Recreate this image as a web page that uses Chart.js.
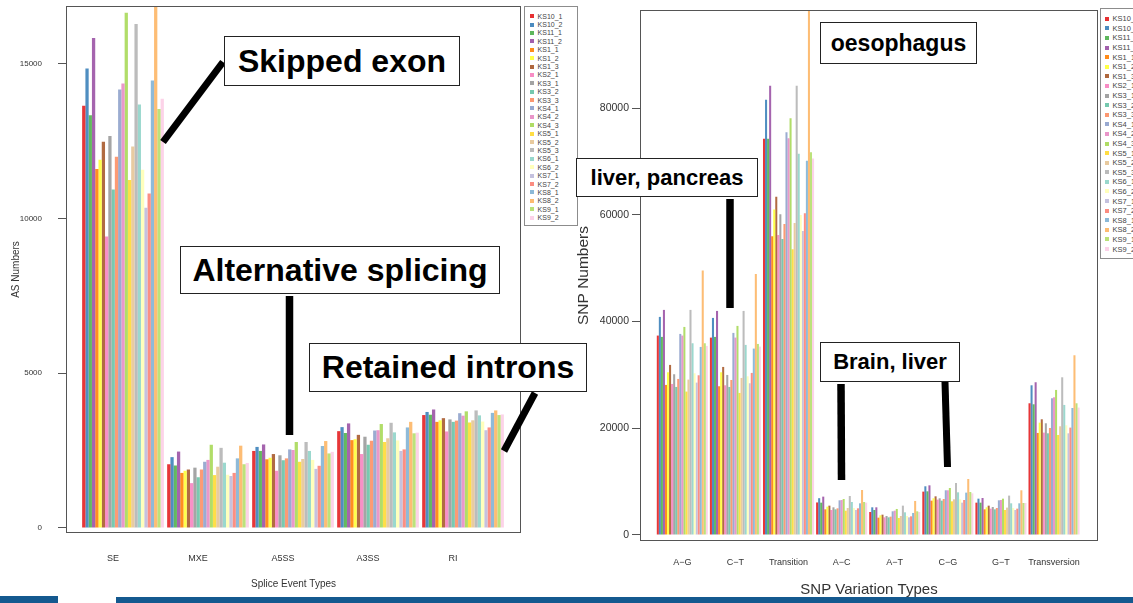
<!DOCTYPE html>
<html><head><meta charset="utf-8">
<script src="https://cdn.jsdelivr.net/npm/chart.js@4/dist/chart.umd.min.js"></script>
<style>
html,body{margin:0;padding:0;background:#fff;}
#wrap{position:relative;width:1133px;height:603px;overflow:hidden;font-family:'Liberation Sans',Arial,Helvetica,sans-serif;background:#fff;}
canvas{position:absolute;left:0;top:0;}
.legend{position:absolute;border:1px solid #8c8c8c;background:#fff;color:#444;box-sizing:border-box;}
.legend .it{display:flex;align-items:center;white-space:nowrap;}
.legend .sw{display:inline-block;flex:none;}
.note{position:absolute;border:1.5px solid #222;background:#fff;font-weight:bold;color:#000;display:flex;align-items:center;justify-content:center;white-space:nowrap;box-sizing:border-box;font-family:'Liberation Sans',Arial,sans-serif;}
svg{position:absolute;left:0;top:0;}
.band{position:absolute;background:#14598f;}
</style></head><body>
<div id="wrap">
  <div style="position:absolute;left:0;top:0;width:540px;height:603px"><canvas id="c1" width="540" height="603"></canvas></div>
  <div style="position:absolute;left:560px;top:0;width:573px;height:603px"><canvas id="c2" width="573" height="603"></canvas></div>
  <div id="leg1" class="legend"></div>
  <div id="leg2" class="legend"></div>
  <svg width="1133" height="603">
    <g stroke="#000" stroke-linecap="butt">
      <line x1="163" y1="142" x2="223" y2="62" stroke-width="7"/>
      <line x1="289.5" y1="296" x2="289.5" y2="435" stroke-width="7.5"/>
      <line x1="535" y1="393" x2="504" y2="451" stroke-width="7"/>
      <line x1="730" y1="199" x2="730" y2="308" stroke-width="7.5"/>
      <line x1="841" y1="384" x2="841.5" y2="480" stroke-width="7.5"/>
      <line x1="945" y1="382" x2="947.5" y2="467" stroke-width="7"/>
    </g>
  </svg>
  <div class="note" style="left:224px;top:36px;width:236px;height:50px;font-size:32px">Skipped exon</div>
  <div class="note" style="left:180px;top:246px;width:320px;height:48px;font-size:32px">Alternative splicing</div>
  <div class="note" style="left:309px;top:343px;width:278px;height:49px;font-size:32px">Retained introns</div>
  <div class="note" style="left:820px;top:22px;width:157px;height:42px;font-size:23px">oesophagus</div>
  <div class="note" style="left:576px;top:158px;width:182px;height:39px;font-size:22px">liver, pancreas</div>
  <div class="note" style="left:820px;top:342px;width:140px;height:40px;font-size:22px">Brain, liver</div>
  <div class="band" style="left:0;top:596px;width:58px;height:7px"></div>
  <div class="band" style="left:116px;top:597px;width:1017px;height:6px"></div>
</div>
<script>
// ---------- data ----------
const sampleNames = ['KS10_1','KS10_2','KS11_1','KS11_2','KS1_1','KS1_2','KS1_3','KS2_1','KS3_1','KS3_2','KS3_3','KS4_1','KS4_2','KS4_3','KS5_1','KS5_2','KS5_3','KS6_1','KS6_2','KS7_1','KS7_2','KS8_1','KS8_2','KS9_1','KS9_2'];
const sampleColors = ['#E41A1C','#377EB8','#4DAF4A','#984EA3','#FF7F00','#FFFF33','#A65628','#F781BF','#999999',
  '#66C2A5','#FC8D62','#8DA0CB','#E78AC3','#A6D854','#FFD92F','#E5C494','#B3B3B3',
  '#8DD3C7','#FFFFB3','#BEBADA','#FB8072','#80B1D3','#FDB462','#B3DE69','#FCCDE5'];

const spliceTypes = ['SE','MXE','A5SS','A3SS','RI'];
const asTicks = [0,5000,10000,15000];
const asSE   = [13650,14850,13340,15840,11600,11900,12480,9420,12670,10940,12000,14170,14370,16650,11250,12330,16290,13690,11580,10350,10810,14460,16950,13540,13870];
const asMXE  = [2060,2290,2020,2470,1780,1850,1890,1450,1950,1640,1890,2140,2200,2690,1710,1980,2590,2110,1720,1680,1780,2250,2660,2060,2100];
const asA5SS = [2490,2620,2490,2700,2220,2270,2390,1850,2350,2190,2250,2540,2520,2780,2140,2230,2780,2490,2200,1910,2010,2650,2810,2410,2460];
const asA3SS = [3130,3260,3070,3380,2840,2870,3010,2390,2950,2690,2820,3150,3160,3360,2780,2900,3400,3090,2830,2490,2540,3250,3430,3060,3080];
const asRI   = [3650,3750,3660,3830,3430,3480,3550,3120,3510,3430,3470,3710,3630,3770,3410,3480,3800,3640,3440,3160,3250,3720,3800,3650,3670];

const snpTypes = ['A\u2212G','C\u2212T','Transition','A\u2212C','A\u2212T','C\u2212G','G\u2212T','Transversion'];
const snpTicks = [0,20000,40000,60000,80000];
const snpAG  = [37380,40880,37130,42190,28130,30500,31880,28310,30130,27750,29250,37690,37380,39000,26880,29130,42190,35940,30310,28560,29940,35250,49560,35940,35440];
const snpCT  = [37000,40690,37130,42000,27880,30500,31500,28060,30000,27750,29060,37880,37000,39190,26630,29440,42000,35630,29750,28440,30380,34940,48940,35810,35310];
const snpTransition = [74250,81560,74250,84190,56000,61000,63380,56250,60130,55500,58310,75500,74380,78130,53560,58500,84190,71440,60000,57000,60310,70130,99000,71750,70560];
const snpAC  = [6100,6900,6060,7190,4810,5310,5500,4690,5190,4810,5000,6500,6560,6750,4560,5060,7310,6190,5060,4690,5000,5940,8440,6190,6060];
const snpAT  = [4310,5190,4690,5190,3250,3690,3810,3310,3560,3310,3440,4440,4560,4880,3190,3560,5500,4250,3560,3310,3500,4130,6380,4440,4310];
const snpCG  = [8130,9130,8190,9310,6440,6880,7250,6630,6880,6440,6750,8380,8380,8810,6310,6690,9750,8000,6690,6060,6560,7940,10500,8060,7810];
const snpGT  = [6060,6810,6060,6940,4810,5190,5500,4940,5250,4810,5060,6500,6560,6810,4690,5130,7380,5940,5060,4690,4940,5940,8380,6000,6000];
const snpTransversion = [24690,28060,24500,28630,19130,21060,21690,19190,20940,19060,20060,25630,25810,27190,18750,20380,29560,24380,20560,19060,20130,23810,33690,24690,23880];

const asGroups  = [asSE, asMXE, asA5SS, asA3SS, asRI];
const snpGroups = [snpAG, snpCT, snpTransition, snpAC, snpAT, snpCG, snpGT, snpTransversion];

// ---------- helpers ----------
const FONT = "'Liberation Sans', Arial, Helvetica, sans-serif";
function alpha(hex, a){
  const n = parseInt(hex.slice(1),16);
  return `rgba(${(n>>16)&255},${(n>>8)&255},${n&255},${a})`;
}
function noPad(s){ s.paddingLeft = 0; s.paddingRight = 0; s.paddingTop = 0; s.paddingBottom = 0; }
const boxPlugin = {
  id:'boxFrame',
  afterDraw(chart){
    const {ctx, chartArea:a} = chart;
    ctx.save();
    ctx.strokeStyle = '#555';
    ctx.lineWidth = 1;
    ctx.strokeRect(Math.round(a.left)+0.5, Math.round(a.top)+0.5, Math.round(a.right-a.left)-1, Math.round(a.bottom-a.top)-1);
    ctx.restore();
  }
};

function buildChart(id, cats, groups, cfg){
  const datasets = sampleNames.map((name, i) => ({
    label: name,
    data: groups.map((g, j) => ({x: j + 1, y: g[i]})),
    backgroundColor: alpha(sampleColors[i], 0.88),
    borderWidth: 0,
    categoryPercentage: 25/26,
    barPercentage: 1
  }));
  return new Chart(document.getElementById(id), {
    type: 'bar',
    data: { datasets },
    plugins: [boxPlugin],
    options: {
      responsive: false,
      animation: false,
      events: [],
      layout: { padding: cfg.padding },
      plugins: { legend: { display: false }, tooltip: { enabled: false } },
      scales: {
        x: {
          type: 'linear', min: cfg.xMin, max: cfg.xMax, offset: false,
          afterBuildTicks: s => { s.ticks = cats.map((c, i) => ({ value: i + 1 })); },
          afterFit: s => { s.height = cfg.xHeight; noPad(s); },
          grid: { display: false }, border: { display: false },
          ticks: { callback: v => cats[Math.round(v) - 1], autoSkip: false, maxRotation: 0, minRotation: 0,
                   labelOffset: cfg.xLabelOffset, padding: cfg.xTickPad, color: '#333', font: { family: FONT, size: cfg.xTickSize } },
          title: { display: true, text: cfg.xTitle, color: '#333', font: { family: FONT, size: cfg.xTitleSize },
                   padding: { top: 0, bottom: cfg.xTitlePad } }
        },
        y: {
          min: cfg.yMin, max: cfg.yMax,
          afterBuildTicks: s => { s.ticks = cfg.yTicks.map(v => ({ value: v })); },
          afterFit: s => { s.width = cfg.yWidth; noPad(s); },
          grid: { drawOnChartArea: false, drawTicks: true, tickLength: 8, color: '#555' },
          border: { display: false },
          ticks: { callback: v => String(v), padding: cfg.yTickPad, color: '#333', font: { family: FONT, size: cfg.yTickSize } },
          title: { display: true, text: cfg.yTitle, color: '#333', font: { family: FONT, size: cfg.yTitleSize },
                   padding: { top: cfg.yTitlePad, bottom: 0 } }
        }
      }
    }
  });
}

buildChart('c1', spliceTypes, asGroups, {
  padding: { left: 0, top: 6, right: 19, bottom: 0 },
  xMin: 0.3294, xMax: 5.682, xHeight: 70, xTickPad: 12, xTickSize: 9, xLabelOffset: -10,
  xTitle: 'Splice Event Types', xTitleSize: 10, xTitlePad: 13,
  yMin: -162, yMax: 16871, yTicks: asTicks, yWidth: 66, yTickPad: 16, yTickSize: 8,
  yTitle: 'AS Numbers', yTitleSize: 10, yTitlePad: 10
});

buildChart('c2', snpTypes, snpGroups, {
  padding: { left: 0, top: 10, right: 35, bottom: 0 },
  xMin: 0.203, xMax: 8.828, xHeight: 62, xTickPad: 8, xTickSize: 9, xLabelOffset: 0,
  xTitle: 'SNP Variation Types', xTitleSize: 15, xTitlePad: 4,
  yMin: -1125, yMax: 98406, yTicks: snpTicks, yWidth: 80, yTickPad: 3, yTickSize: 10.5,
  yTitle: 'SNP Numbers', yTitleSize: 15.5, yTitlePad: 14
});

// ---------- legends built from the same arrays ----------
function buildLegend(id, box, step, fontSize, sw){
  const el = document.getElementById(id);
  Object.assign(el.style, { left: box.x + 'px', top: box.y + 'px', width: box.w + 'px', height: box.h + 'px',
    paddingTop: box.pt + 'px', paddingLeft: box.pl + 'px', fontSize: fontSize + 'px', fontFamily: FONT });
  sampleNames.forEach((n, i) => {
    const it = document.createElement('div');
    it.className = 'it';
    it.style.height = step + 'px';
    const s = document.createElement('span');
    s.className = 'sw';
    Object.assign(s.style, { width: sw + 'px', height: sw + 'px', background: alpha(sampleColors[i], 0.9), marginRight: (sw * 0.9) + 'px' });
    const t = document.createElement('span');
    t.textContent = n;
    it.appendChild(s); it.appendChild(t);
    el.appendChild(it);
  });
}
buildLegend('leg1', { x: 524, y: 6, w: 54, h: 220, pt: 5, pl: 5 }, 8.4, 7, 4);
buildLegend('leg2', { x: 1100, y: 8, w: 50, h: 251, pt: 5, pl: 4 }, 9.6, 7.5, 4);
</script>
</body></html>
